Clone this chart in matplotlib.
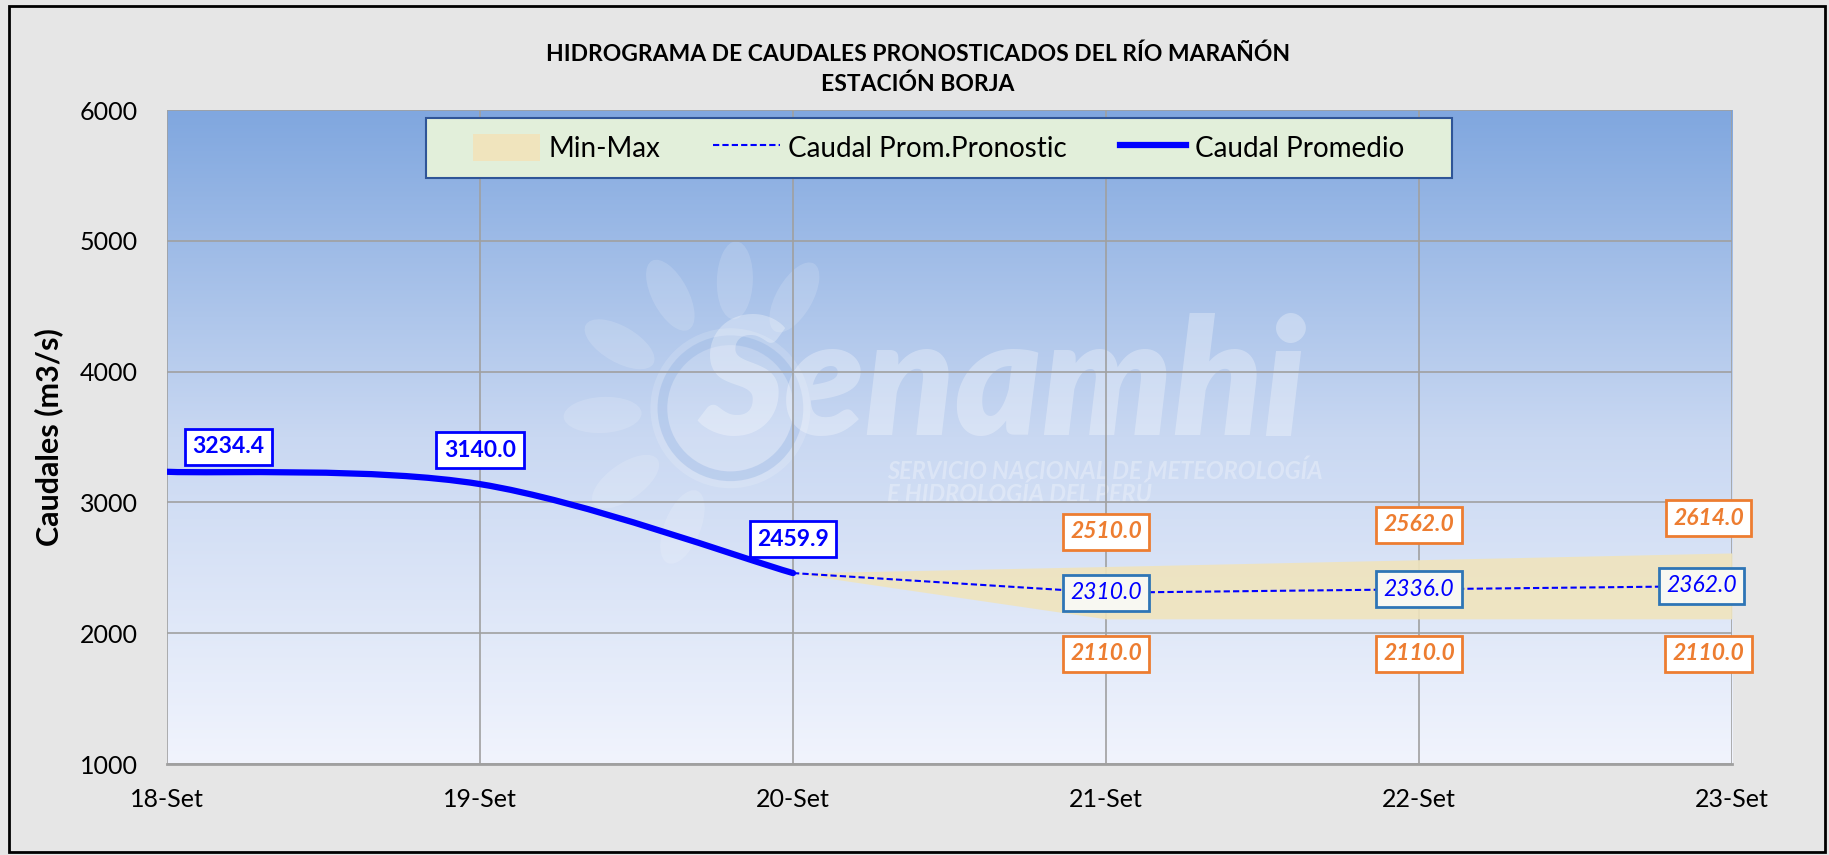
import numpy as np
import matplotlib
matplotlib.use("Agg")
import matplotlib.pyplot as plt
from matplotlib.path import Path
from matplotlib.patches import PathPatch, Patch, Rectangle, Ellipse, Circle
from matplotlib.lines import Line2D
from matplotlib.transforms import Affine2D

plt.rcParams["font.family"] = ["Lato", "DejaVu Sans"]

# data
dias = ["18-Set", "19-Set", "20-Set", "21-Set", "22-Set", "23-Set"]
obs_x = [0, 1, 2]
caudal_obs = [3234.4, 3140.0, 2459.9]
pron_x = [2, 3, 4, 5]
caudal_pron = [2459.9, 2310.0, 2336.0, 2362.0]
caudal_min = [2459.9, 2110.0, 2110.0, 2110.0]
caudal_max = [2459.9, 2510.0, 2562.0, 2614.0]


def excel_smooth_path(xs, ys):
    # bezier path like Excel's "smoothed line"
    pts = np.column_stack([xs, ys]).astype(float)
    n = len(pts)
    verts = [pts[0]]
    codes = [Path.MOVETO]
    for i in range(n - 1):
        p_prev = pts[max(i - 1, 0)]
        p0, p1 = pts[i], pts[i + 1]
        p_next = pts[min(i + 2, n - 1)]
        c1 = p0 + (p1 - p_prev) / 6.0
        c2 = p1 - (p_next - p0) / 6.0
        verts += [c1, c2, p1]
        codes += [Path.CURVE4] * 3
    return Path(verts, codes)


fig = plt.figure(figsize=(18.29, 8.55), dpi=100, facecolor="#e6e6e6")
ax = fig.add_axes([0.0913, 0.1064, 0.8557, 0.7649])
ax.set_xlim(0, 5)
ax.set_ylim(1000, 6000)

# gradient background
grad = np.linspace(0, 1, 256).reshape(-1, 1)
cmap = matplotlib.colors.LinearSegmentedColormap.from_list(
    "bg", ["#f1f4fd", "#c9d8f2", "#80a7df"])
ax.imshow(grad, cmap=cmap, aspect="auto", extent=[0, 5, 1000, 6000],
          origin="lower", zorder=0)

# watermark logo (pixel units around a data point)
ppd = ax.transData.transform((1, 0))[0] - ax.transData.transform((0, 0))[0]
ppu = ax.transData.transform((0, 1000))[1] - ax.transData.transform((0, 0))[1]
logo = Affine2D().scale(1 / ppd, 1000 / ppu).translate(1.80, 3720) + ax.transData
wm = dict(facecolor="white", edgecolor="none", alpha=0.15, zorder=1)
ax.add_patch(Circle((0, 0), 80, transform=logo, **wm))
ax.add_patch(Circle((0, 0), 68, transform=logo, facecolor="none",
                    edgecolor="#8fb0e2", lw=7, alpha=0.35, zorder=1))
for ang in [60, 88, 118, 150, 183, 215, 248]:
    r = np.deg2rad(ang)
    ax.add_patch(Ellipse((128 * np.cos(r), 128 * np.sin(r)), 78, 36, angle=ang,
                         transform=logo, **wm))
ax.text(2.67, 3880, "Senamhi", fontsize=118, fontweight="heavy", style="italic",
        color="white", alpha=0.3, ha="center", va="center", zorder=1)
ax.text(2.30, 3150, "SERVICIO NACIONAL DE METEOROLOGÍA\nE HIDROLOGÍA DEL PERÚ",
        fontsize=17, fontweight="bold", style="italic", color="white",
        alpha=0.3, ha="left", va="center", linespacing=1.0, zorder=1)

ax.set_xticks(range(len(dias)))
ax.set_xticklabels(dias)
ax.set_yticks([1000, 2000, 3000, 4000, 5000, 6000])
ax.tick_params(length=0, labelsize=18)
ax.tick_params(axis="x", pad=17)
ax.tick_params(axis="y", pad=21)
ax.grid(True, color="#a0a0a0", linewidth=1.2, zorder=2)
ax.set_axisbelow(False)
for side in ["top", "right", "left"]:
    ax.spines[side].set_visible(False)
ax.spines["bottom"].set_color("#a0a0a0")
ax.spines["bottom"].set_linewidth(2)

ax.set_ylabel("Caudales (m3/s)", fontsize=22, fontweight="bold", labelpad=12)

# band and lines
ax.fill_between(pron_x, caudal_min, caudal_max, color="#f0e4bd", alpha=0.9,
                linewidth=0, zorder=3)
ax.plot(pron_x, caudal_pron, color="#0000ff", linestyle=(0, (3, 1.5)),
        linewidth=1.5, zorder=4)
ax.add_patch(PathPatch(excel_smooth_path(obs_x, caudal_obs), fill=False,
                       edgecolor="#0000ff", linewidth=4.5, capstyle="round",
                       zorder=5))

# labels
lab_fs = 16.5
box_blue = dict(boxstyle="square,pad=0.33", fc="white", ec="#0000ff", lw=2)
for i, (x, y) in enumerate(zip(obs_x, caudal_obs)):
    off = (44, 18) if i == 0 else (0, 24.5)
    ax.annotate(f"{y:.1f}", (x, y), xytext=off, textcoords="offset points",
                ha="center", va="center", fontsize=lab_fs, fontweight="bold",
                color="#0000ff", bbox=box_blue, zorder=6)

box_pron = dict(boxstyle="square,pad=0.33", fc="#f8f8f2", ec="#2e75b6", lw=2)
box_or = dict(boxstyle="square,pad=0.33", fc="white", ec="#ed7d31", lw=2)
for x, y, lo, hi in zip(pron_x[1:], caudal_pron[1:], caudal_min[1:], caudal_max[1:]):
    dxb = -22 if x == 5 else 0
    dxo = -17 if x == 5 else 0
    ax.annotate(f"{y:.1f}", (x, y), xytext=(dxb, 0), textcoords="offset points",
                ha="center", va="center", fontsize=lab_fs, style="italic",
                color="#0000ff", bbox=box_pron, zorder=6)
    ax.annotate(f"{hi:.1f}", (x, hi), xytext=(dxo, 25), textcoords="offset points",
                ha="center", va="center", fontsize=lab_fs, style="italic",
                fontweight="bold", color="#ed7d31", bbox=box_or, zorder=6)
    ax.annotate(f"{lo:.1f}", (x, lo), xytext=(dxo, -25), textcoords="offset points",
                ha="center", va="center", fontsize=lab_fs, style="italic",
                fontweight="bold", color="#ed7d31", bbox=box_or, zorder=6)

# legend box drawn separately (Excel pads it wider than tall)
ax.add_patch(Rectangle((0.1655, 0.896), 0.6555, 0.092, transform=ax.transAxes,
                       facecolor="#e2efda", edgecolor="#2f5597", lw=1.5,
                       zorder=7))
handles = [
    Patch(facecolor="#f0e4bd", edgecolor="none", label="Min-Max"),
    Line2D([], [], color="#0000ff", linestyle=(0, (3, 1.5)), lw=1.5,
           label="Caudal Prom.Pronostic"),
    Line2D([], [], color="#0000ff", lw=4.5, label="Caudal Promedio"),
]
leg = ax.legend(handles=handles, loc="center", bbox_to_anchor=(0.493, 0.942),
                ncol=3, fontsize=20, frameon=False,
                handlelength=2.4, handleheight=1.1, handletextpad=0.3,
                columnspacing=1.9, borderpad=0.3, borderaxespad=0)
leg.set_zorder(8)

fig.text(0.502, 0.937, "HIDROGRAMA DE CAUDALES PRONOSTICADOS DEL RÍO MARAÑÓN",
         ha="center", va="center", fontsize=16.5, fontweight="bold")
fig.text(0.502, 0.902, "ESTACIÓN BORJA", ha="center", va="center",
         fontsize=16.5, fontweight="bold")

fig.add_artist(Rectangle((0.005, 0.003), 0.993, 0.990, transform=fig.transFigure,
                         fill=False, edgecolor="black", linewidth=2))

fig.savefig("out.png", dpi=100, facecolor=fig.get_facecolor())
